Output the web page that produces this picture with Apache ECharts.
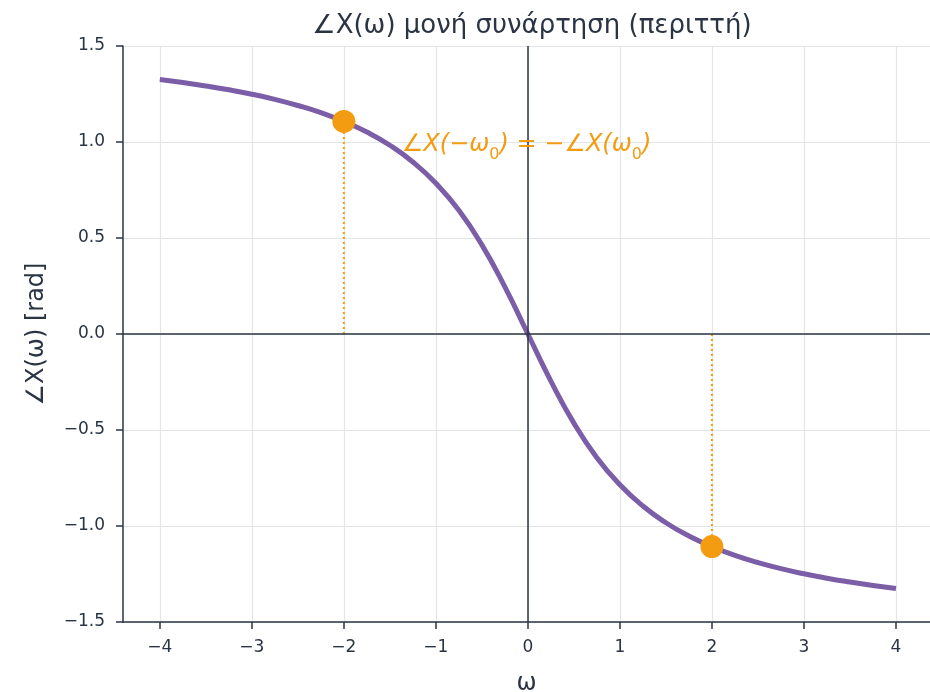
<!DOCTYPE html>
<html>
<head>
<meta charset="utf-8">
<script src="https://cdn.jsdelivr.net/npm/echarts@6/dist/echarts.min.js"></script>
<style>html,body{margin:0;padding:0;background:#fff}#c{width:930px;height:692px}</style>
</head>
<body>
<div id="c"></div>
<script>
const omega = [-4,-3.75,-3.5,-3.25,-3,-2.75,-2.5,-2.25,-2,-1.75,-1.5,-1.25,-1,-0.75,-0.5,-0.25,0,0.25,0.5,0.75,1,1.25,1.5,1.75,2,2.25,2.5,2.75,3,3.25,3.5,3.75,4];
const phase = [1.326,1.310,1.292,1.272,1.249,1.222,1.190,1.153,1.107,1.052,0.983,0.896,0.785,0.644,0.464,0.245,0,-0.245,-0.464,-0.644,-0.785,-0.896,-0.983,-1.052,-1.107,-1.153,-1.190,-1.222,-1.249,-1.272,-1.292,-1.310,-1.326];
const markW = [-2, 2];
const markP = [1.107, -1.107];
const xTicks = [-4,-3,-2,-1,0,1,2,3,4];
const yTicks = [-1.5,-1.0,-0.5,0.0,0.5,1.0,1.5];
const titleText = '∠X(ω) μονή συνάρτηση (περιττή)';
const annText = '{m|∠X(−ω}{s|0}{m|) = −∠X(ω}{s|0}{m|)}';

const FONT = '"DejaVu Sans", sans-serif';
const DARK = '#2b3443';
const ORANGE = '#f39c12';
const chart = echarts.init(document.getElementById('c'), null, {renderer:'canvas'});
const fmt = v => (v < 0 ? '−' : '') + Math.abs(v);
const fmtY = v => (v < 0 ? '−' : '') + Math.abs(v).toFixed(1);

const series = [
  {
    type:'line', data: omega.map((w,i)=>[w, phase[i]]), smooth:true, showSymbol:false,
    lineStyle:{color:'#7b5ea7', width:5}, z:3,
    markLine:{silent:true, symbol:'none', label:{show:false},
      lineStyle:{color:DARK, width:1.5, type:'solid'},
      data:[{xAxis:0},{yAxis:0}]}
  }
];
markW.forEach((w,i)=>{
  series.push({type:'line', data:[[w,0],[w,markP[i]]], showSymbol:false, symbol:'none',
    lineStyle:{color:ORANGE, width:2, type:[2,3]}, z:2});
});
series.push({type:'scatter', data: markW.map((w,i)=>[w, markP[i]]), symbolSize:23,
  itemStyle:{color:ORANGE, opacity:1}, z:5,
  markPoint:{symbol:'rect', symbolSize:0, silent:true,
    data:[{coord:[-1.37, 0.985], label:{show:true, formatter:annText, position:'right', distance:0,
      rich:{
        m:{color:ORANGE, fontSize:24, fontStyle:'italic', fontFamily:FONT, lineHeight:36, verticalAlign:'middle'},
        s:{color:ORANGE, fontSize:16, fontFamily:FONT, lineHeight:16, verticalAlign:'bottom'}
      }}}]}
});

chart.setOption({
  animation:false,
  title:{text:titleText, left:527, top:8, textAlign:'center',
    textStyle:{fontFamily:FONT, fontSize:26, fontWeight:'normal', color:DARK}},
  grid:{left:123, right:0, top:46, bottom:70, containLabel:false, outerBoundsMode:'none'},
  xAxis:{type:'value', min:-4.4, max:4.37, interval:1,
    name:'ω', nameLocation:'middle', nameGap:50,
    nameTextStyle:{fontFamily:FONT, fontSize:24, color:DARK},
    axisLine:{show:true, onZero:false, lineStyle:{color:DARK, width:1.5}},
    axisTick:{show:true, customValues:xTicks, length:7, lineStyle:{color:DARK, width:1.5}},
    axisLabel:{customValues:xTicks, formatter:fmt, fontFamily:FONT, fontSize:17, color:DARK, margin:17},
    splitLine:{show:true, lineStyle:{color:'#e3e6e8', width:1.2}}
  },
  yAxis:{type:'value', min:-1.5, max:1.5, interval:0.5,
    name:'∠X(ω) [rad]', nameLocation:'middle', nameGap:74,
    nameTextStyle:{fontFamily:FONT, fontSize:24, color:DARK},
    axisLine:{show:true, onZero:false, lineStyle:{color:DARK, width:1.5}},
    axisTick:{show:true, length:7, lineStyle:{color:DARK, width:1.5}},
    axisLabel:{formatter:fmtY, fontFamily:FONT, fontSize:17, color:DARK, margin:18},
    splitLine:{show:true, lineStyle:{color:'#e3e6e8', width:1.2}}
  },
  series
});
</script>
</body>
</html>
